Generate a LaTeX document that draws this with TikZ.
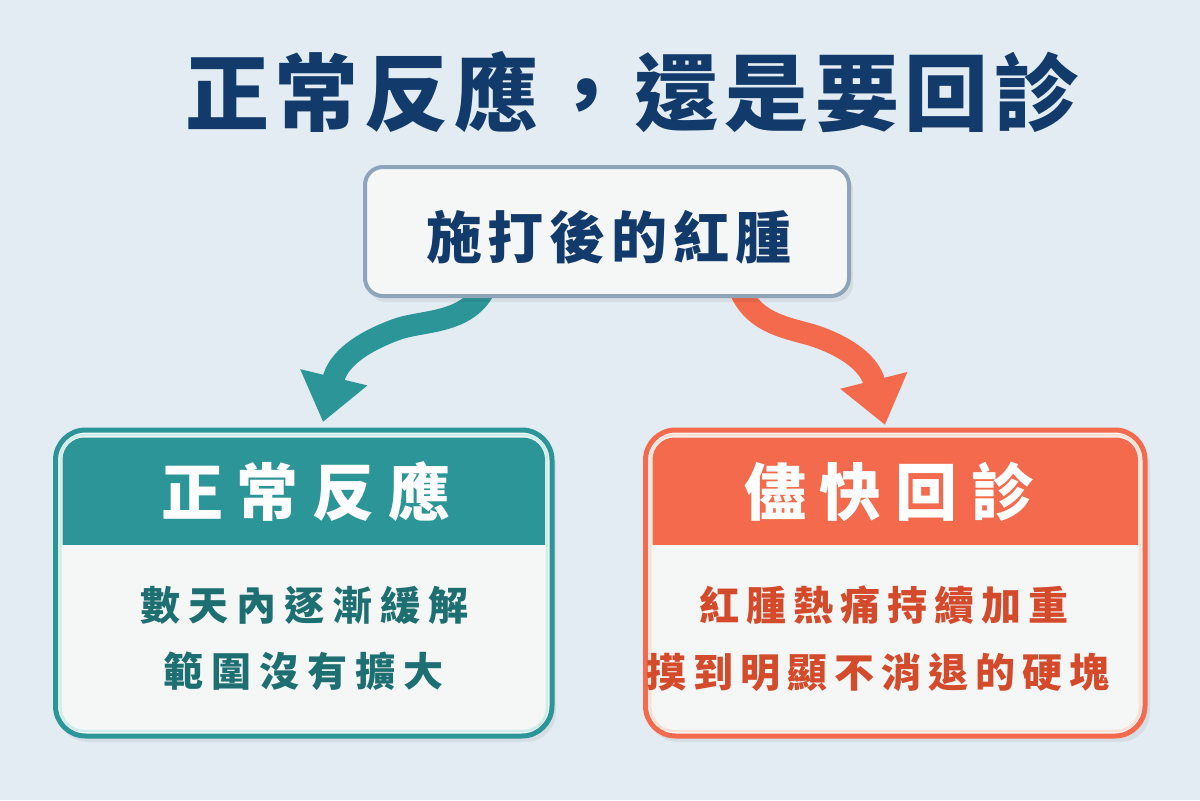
\documentclass[tikz,border=0pt]{standalone}
\usepackage{fontspec}
\usetikzlibrary{arrows.meta}
\newfontfamily\cjk{Noto Sans CJK TC}
\newfontfamily\cjkblack{Noto Sans CJK TC Black}
\definecolor{bg}{HTML}{E3ECF3}
\definecolor{navy}{HTML}{123A6A}
\definecolor{topborder}{HTML}{8FA3B9}
\definecolor{boxfill}{HTML}{F5F6F6}
\definecolor{tealc}{HTML}{2C9598}
\definecolor{teallight}{HTML}{CDEDEA}
\definecolor{tealtext}{HTML}{1D6F72}
\definecolor{orangec}{HTML}{F36A4C}
\definecolor{orangelight}{HTML}{FCE0D6}
\definecolor{orangetext}{HTML}{D44B2C}
\newdimen\lsp
\def\spaceout#1{#1\spaceoutrest}
\def\spaceoutrest#1{\ifx#1\relax\else\kern\lsp#1\expandafter\spaceoutrest\fi}
\tikzset{
  titletext/.style={text=navy, inner sep=0pt, font=\cjkblack\fontsize{42}{42}\selectfont},
  toptext/.style={text=navy, inner sep=0pt, font=\cjk\bfseries\fontsize{28}{28}\selectfont},
  headtext/.style={text=white, inner sep=0pt, font=\cjkblack\fontsize{31}{31}\selectfont},
  bodytext/.style={inner sep=0pt, font=\cjk\bfseries\fontsize{20}{20}\selectfont},
  shadowc/.style={fill=black, opacity=0.06, rounded corners=15pt},
  flow/.style={line width=11pt, -{Triangle[length=23pt,width=33pt]}},
}
\begin{document}
\begin{tikzpicture}[x=0.5pt,y=-0.5pt]
\useasboundingbox (0,0) rectangle (1200,800);
\fill[bg] (0,0) rectangle (1200,800);

% title
\node[titletext] (title) at (632,92) {\lsp=3pt\spaceout 正常反應，還是要回診\relax};

% arrow anchors
\coordinate (ls) at (484,290);
\coordinate (lt) at (323,422);
\coordinate (rs) at (740,290);
\coordinate (rt) at (885,425);

% arrows (behind boxes)
\draw[flow, tealc] (ls) .. controls (465,325) and (420,320) .. (395,330)
      .. controls (360,343) and (338,360) .. (lt);
\draw[flow, orangec] (rs) .. controls (755,325) and (790,328) .. (815,336)
      .. controls (850,348) and (870,365) .. (rt);

% top box
\fill[shadowc, rounded corners=9pt] (368,172) rectangle (853,302);
\node[draw=topborder, line width=2pt, fill=boxfill, rounded corners=9pt,
      minimum width=242pt, minimum height=64.5pt, inner sep=0pt] (top) at (607,231.5) {};
\node[toptext] (toplabel) at (609,237) {\lsp=3pt\spaceout 施打後的紅腫\relax};

% left box
\fill[shadowc] (58,436) rectangle (556,742);
\draw[line width=2.5pt, draw=tealc, fill=boxfill, rounded corners=15pt] (55.5,430) rectangle (552,736);
\begin{scope}
  \clip[rounded corners=11pt] (62.5,437.5) rectangle (545,728.5);
  \fill[tealc] (0,0) rectangle (1200,545);
\end{scope}
\draw[line width=1.2pt, draw=teallight, rounded corners=12pt] (60.5,435) rectangle (547,731);
\node[headtext] (lefthead) at (306,492) {\lsp=7pt\spaceout 正常反應\relax};
\node[bodytext, text=tealtext] (left1) at (304,605) {\lsp=4pt\spaceout 數天內逐漸緩解\relax};
\node[bodytext, text=tealtext] (left2) at (303,671) {\lsp=4pt\spaceout 範圍沒有擴大\relax};

% right box
\fill[shadowc] (648,436) rectangle (1150,742);
\draw[line width=2.5pt, draw=orangec, fill=boxfill, rounded corners=15pt] (645.5,430) rectangle (1145,736);
\begin{scope}
  \clip[rounded corners=11pt] (652.5,437.5) rectangle (1138,728.5);
  \fill[orangec] (0,0) rectangle (1200,545);
\end{scope}
\draw[line width=1.2pt, draw=orangelight, rounded corners=12pt] (650.5,435) rectangle (1140,731);
\node[headtext] (righthead) at (889,492) {\lsp=7pt\spaceout 儘快回診\relax};
\node[bodytext, text=orangetext] (right1) at (884,605) {\lsp=3.5pt\spaceout 紅腫熱痛持續加重\relax};
\node[bodytext, text=orangetext] (right2) at (878,672) {\lsp=3.5pt\spaceout 摸到明顯不消退的硬塊\relax};
\end{tikzpicture}
\end{document}
